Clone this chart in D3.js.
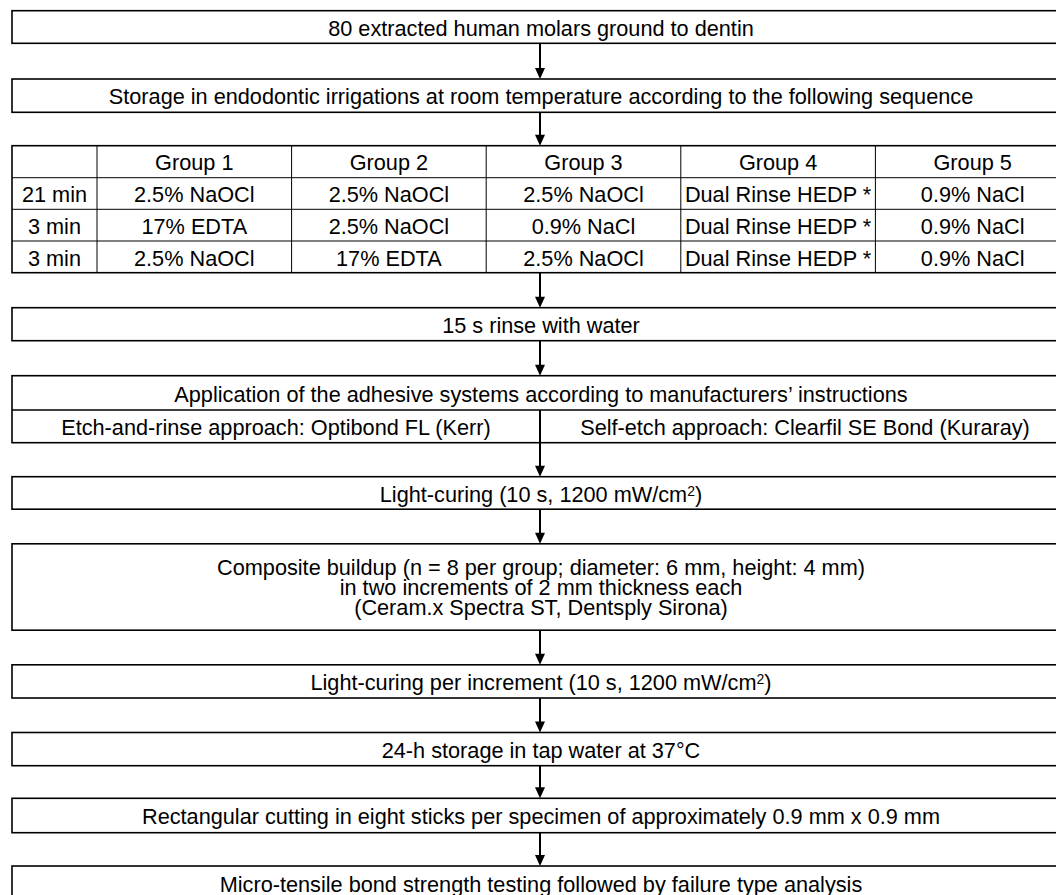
<!DOCTYPE html>
<html>
<head>
<meta charset="utf-8">
<script src="https://cdn.jsdelivr.net/npm/d3@7"></script>
<style>
  html, body { margin: 0; padding: 0; background: #fff; }
  svg { display: block; }
  text { font-family: "Liberation Sans", Arial, sans-serif; font-size: 21.7px; fill: #000; }
</style>
</head>
<body>
<svg id="chart" width="1056" height="895"></svg>
<script>
// ---------------- data ----------------
const startSteps = [
  "80 extracted human molars ground to dentin",
  "Storage in endodontic irrigations at room temperature according to the following sequence"
];
const groups = ["Group 1", "Group 2", "Group 3", "Group 4", "Group 5"];
const durations = ["21 min", "3 min", "3 min"];
const group1 = ["2.5% NaOCl", "17% EDTA", "2.5% NaOCl"];
const group2 = ["2.5% NaOCl", "2.5% NaOCl", "17% EDTA"];
const group3 = ["2.5% NaOCl", "0.9% NaCl", "2.5% NaOCl"];
const group4 = ["Dual Rinse HEDP *", "Dual Rinse HEDP *", "Dual Rinse HEDP *"];
const group5 = ["0.9% NaCl", "0.9% NaCl", "0.9% NaCl"];
const rinseStep = "15 s rinse with water";
const adhesiveTitle = "Application of the adhesive systems according to manufacturers\u2019 instructions";
const approaches = ["Etch-and-rinse approach: Optibond FL (Kerr)", "Self-etch approach: Clearfil SE Bond (Kuraray)"];
const lightCuring = ["Light-curing (10 s, 1200 mW/cm", "2", ")"];
const compositeLines = [
  "Composite buildup (n = 8 per group; diameter: 6 mm, height: 4 mm)",
  "in two increments of 2 mm thickness each",
  "(Ceram.x Spectra ST, Dentsply Sirona)"
];
const lightCuringIncrement = ["Light-curing per increment (10 s, 1200 mW/cm", "2", ")"];
const endSteps = [
  "24-h storage in tap water at 37\u00b0C",
  "Rectangular cutting in eight sticks per specimen of approximately 0.9 mm x 0.9 mm",
  "Micro-tensile bond strength testing followed by failure type analysis"
];
const groupValues = [group1, group2, group3, group4, group5];

// ---------------- layout ----------------
const svg = d3.select("#chart");
const X0 = 12, X1 = 1070, AX = 540;
const BASE = 8.7;      // baseline offset from vertical centre
const LINE = 20;       // line spacing in multi-line box

// column scale for table
const colX = d3.scaleBand().domain(groups).range([97, X1]);

function box(top, h) {
  svg.append("rect").attr("x", X0).attr("y", top).attr("width", X1 - X0).attr("height", h)
    .attr("fill", "none").attr("stroke", "#000").attr("stroke-width", 1.6);
}
function label(x, y, t) {
  return svg.append("text").attr("x", x).attr("y", y).attr("text-anchor", "middle").text(t);
}
function supLabel(x, y, parts) {
  const t = svg.append("text").attr("x", x).attr("y", y).attr("text-anchor", "middle");
  t.append("tspan").text(parts[0]);
  t.append("tspan").attr("dy", -6).style("font-size", "14px").text(parts[1]);
  t.append("tspan").attr("dy", 6).text(parts[2]);
}
function arrow(y1, y2) {
  svg.append("line").attr("x1", AX).attr("x2", AX).attr("y1", y1).attr("y2", y2 - 9)
    .attr("stroke", "#000").attr("stroke-width", 2);
  svg.append("path").attr("d", `M${AX - 5},${y2 - 11} L${AX + 5},${y2 - 11} L${AX},${y2} Z`).attr("fill", "#000");
}
function singleBox(top, h, t) {
  box(top, h);
  label((X0 + X1) / 2, top + h / 2 + BASE, t);
}

// step 1 & 2
const b1 = {top: 10.7, h: 32.6};
const b2 = {top: 79, h: 33.3};
singleBox(b1.top, b1.h, startSteps[0]);
arrow(b1.top + b1.h, b2.top);
singleBox(b2.top, b2.h, startSteps[1]);

// table
const tTop = 145.7, rowH = [32, 31.6, 31.7, 31.7];
arrow(b2.top + b2.h, tTop);
const rowY = [tTop];
rowH.forEach((h, i) => rowY.push(rowY[i] + h));
const tBot = rowY[rowY.length - 1];
box(tTop, tBot - tTop);
rowY.slice(1, -1).forEach(y => {
  svg.append("line").attr("x1", X0).attr("x2", X1).attr("y1", y).attr("y2", y)
    .attr("stroke", "#000").attr("stroke-width", 1);
});
groups.forEach(g => {
  svg.append("line").attr("x1", colX(g)).attr("x2", colX(g)).attr("y1", tTop).attr("y2", tBot)
    .attr("stroke", "#000").attr("stroke-width", 1);
});
const rowMid = i => (rowY[i] + rowY[i + 1]) / 2 + BASE;
groups.forEach(g => label(colX(g) + colX.bandwidth() / 2, rowMid(0), g));
durations.forEach((d, r) => label((X0 + 97) / 2, rowMid(r + 1), d));
groupValues.forEach((vals, gi) => {
  vals.forEach((v, r) => label(colX(groups[gi]) + colX.bandwidth() / 2, rowMid(r + 1), v));
});

// rinse
const b3 = {top: 307.7, h: 33};
arrow(tBot, b3.top);
singleBox(b3.top, b3.h, rinseStep);

// adhesive split box
const b4 = {top: 375.7, mid: 410, bot: 442.7};
arrow(b3.top + b3.h, b4.top);
box(b4.top, b4.bot - b4.top);
svg.append("line").attr("x1", X0).attr("x2", X1).attr("y1", b4.mid).attr("y2", b4.mid)
  .attr("stroke", "#000").attr("stroke-width", 1.6);
label((X0 + X1) / 2, (b4.top + b4.mid) / 2 + BASE, adhesiveTitle);
label((X0 + AX) / 2, (b4.mid + b4.bot) / 2 + BASE, approaches[0]);
label((AX + X1) / 2, (b4.mid + b4.bot) / 2 + BASE, approaches[1]);

// light curing
const b5 = {top: 476.7, h: 32.5};
arrow(b4.mid, b5.top);
box(b5.top, b5.h);
supLabel((X0 + X1) / 2, b5.top + b5.h / 2 + BASE, lightCuring);

// composite
const b6 = {top: 543.8, h: 86.4};
arrow(b5.top + b5.h, b6.top);
box(b6.top, b6.h);
compositeLines.forEach((t, i) => label((X0 + X1) / 2, b6.top + b6.h / 2 + BASE - 1 + (i - 1) * LINE, t));

// light curing per increment
const b7 = {top: 664.8, h: 33.2};
arrow(b6.top + b6.h, b7.top);
box(b7.top, b7.h);
supLabel((X0 + X1) / 2, b7.top + b7.h / 2 + BASE, lightCuringIncrement);

// end steps
const endBoxes = [{top: 732.5, h: 33.2}, {top: 798.3, h: 34.4}, {top: 866, h: 34}];
let prevBot = b7.top + b7.h;
endBoxes.forEach((b, i) => {
  arrow(prevBot, b.top);
  singleBox(b.top, b.h, endSteps[i]);
  prevBot = b.top + b.h;
});
</script>
</body>
</html>
